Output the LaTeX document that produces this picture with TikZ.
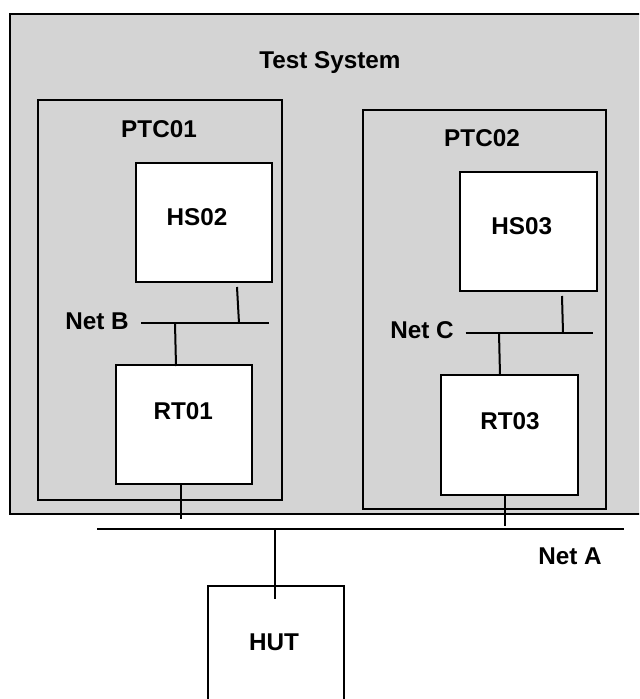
\documentclass[tikz,border=0pt]{standalone}
\usepackage{fontspec}
\setmainfont{Liberation Sans}
\usetikzlibrary{fit}
\definecolor{bggray}{RGB}{212,212,212}
\tikzset{
  pxgrid/.style={x=0.75pt,y=-0.75pt},
  frame/.style={draw=black,line width=1.5pt,inner sep=0pt},
  whitebox/.style={frame,fill=white},
  lbl/.style={font=\fontsize{18.2}{21}\selectfont\bfseries,inner sep=0pt,anchor=center},
  wire/.style={draw=black,line width=1.5pt}
}
\begin{document}
\begin{tikzpicture}[pxgrid]
\useasboundingbox (0,0) rectangle (639,699);
\clip (0,0) rectangle (639,699);
% outer system
\node[frame,fill=bggray,fit={(10,13.7) (660,514.3)}] (sys) {};
% PTC frames
\node[frame,fit={(38.3,100) (282,500)}] (ptc1) {};
\node[frame,fit={(362.7,110) (606,509.3)}] (ptc2) {};
% inner boxes
\node[whitebox,fit={(135.7,162.7) (272,281.7)}] (hs02) {};
\node[whitebox,fit={(460,172.3) (596.7,291)}] (hs03) {};
\node[whitebox,fit={(115.7,365.3) (252.3,484)}] (rt01) {};
\node[whitebox,fit={(441,375) (578,495)}] (rt03) {};
\node[whitebox,fit={(207.7,585.7) (344,720)}] (hut) {};
% net coordinates
\coordinate (netBL) at (141,323.3);
\coordinate (netBR) at (269,323.3);
\coordinate (netCL) at (465.7,332.7);
\coordinate (netCR) at (593,332.7);
\coordinate (netAL) at (97,528.7);
\coordinate (netAR) at (624,528.7);
% connector end points
\coordinate (hs02tap) at (237,287);
\coordinate (hs02join) at (239,323.3);
\coordinate (rt01tapB) at (175,323.3);
\coordinate (rt01topc) at (176,366);
\coordinate (rt01bot) at (181,484);
\coordinate (rt01end) at (181,519);
\coordinate (hs03tap) at (562,296);
\coordinate (hs03join) at (563,332.7);
\coordinate (rt03tapC) at (499,332.7);
\coordinate (rt03topc) at (500,375);
\coordinate (rt03bot) at (505,495);
\coordinate (rt03end) at (505,526);
\coordinate (hutjoin) at (275,528.7);
\coordinate (hutend) at (275,599);
% nets
\draw[wire] (netBL) -- (netBR);
\draw[wire] (netCL) -- (netCR);
\draw[wire] (netAL) -- (netAR);
% connectors
\draw[wire] (hs02tap) -- (hs02join);
\draw[wire] (rt01tapB) -- (rt01topc);
\draw[wire] (rt01bot) -- (rt01end);
\draw[wire] (hs03tap) -- (hs03join);
\draw[wire] (rt03tapC) -- (rt03topc);
\draw[wire] (rt03bot) -- (rt03end);
\draw[wire] (hutjoin) -- (hutend);
% labels
\node[lbl] (tsys) at (330,62.7) {Test System};
\node[lbl] (tptc1) at (159,129) {PTC01};
\node[lbl] (tptc2) at (482,138) {PTC02};
\node[lbl] (ths02) at (197,216.7) {HS02};
\node[lbl] (ths03) at (521.7,225.7) {HS03};
\node[lbl] (trt01) at (183.3,410.7) {RT01};
\node[lbl] (trt03) at (510,421) {RT03};
\node[lbl] (tnetb) at (97,321) {Net B};
\node[lbl] (tnetc) at (422,330) {Net C};
\node[lbl] (tneta) at (570,556.7) {Net A};
\node[lbl] (thut) at (274,642) {HUT};
\end{tikzpicture}
\end{document}
